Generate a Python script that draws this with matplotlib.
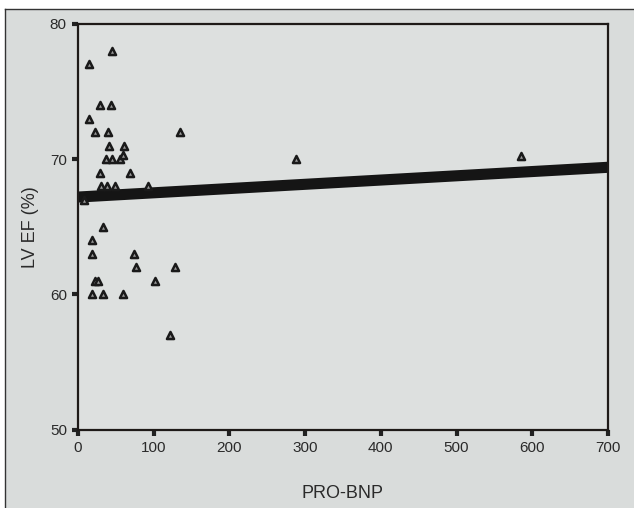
import numpy as np
import matplotlib.pyplot as plt
from matplotlib.patches import Rectangle

plt.rcParams['font.family'] = ['Liberation Sans', 'DejaVu Sans']

# PRO-BNP vs LVEF, triangle markers
pro_bnp = [45, 14, 29, 44, 15, 23, 39, 135, 41, 61, 37, 45, 55, 60,
           29, 69, 31, 38, 49, 92, 8, 33, 18, 19, 74, 77, 128,
           22, 26, 102, 19, 33, 60, 121, 288, 585]
lvef = [78, 77, 74, 74, 73, 72, 72, 72, 71, 71, 70, 70, 70, 70.3,
        69, 69, 68, 68, 68, 68, 67, 65, 64, 63, 63, 62, 62,
        61, 61, 61, 60, 60, 60, 57, 70, 70.2]

# linear fit line
fit_x = [0, 700]
fit_y = [67.2, 69.4]

bg = '#d9dcdb'
fig = plt.figure(figsize=(6.34, 5.08), dpi=100, facecolor=bg)
ax = fig.add_axes([0.123, 0.154, 0.836, 0.799], facecolor='#dde0df')

ax.plot(fit_x, fit_y, color='#151515', linewidth=8, solid_capstyle='butt', zorder=2)
ax.scatter(pro_bnp, lvef, marker='^', s=26, facecolor='#9a9a9a',
           edgecolor='#1a1a1a', linewidth=1.8, zorder=3)

ax.set_xlim(0, 700)
ax.set_ylim(50, 80)
ax.set_xticks(range(0, 701, 100))
ax.set_yticks([50, 60, 70, 80])
ax.tick_params(direction='out', length=4, width=3, color='#222222',
               labelsize=11, labelcolor='#2a2a2a', pad=4)
for s in ax.spines.values():
    s.set_linewidth(1.6)
    s.set_color('#1e1a18')

ax.set_xlabel('PRO-BNP', fontsize=13, color='#2a2a2a', labelpad=22)
ax.set_ylabel('LV EF (%)', fontsize=13, color='#2a2a2a', labelpad=8)

# outer frame
fig.patches.append(Rectangle((0, 0.982), 1, 0.018, transform=fig.transFigure,
                             facecolor='white', edgecolor='none'))
fig.patches.append(Rectangle((0, 0), 0.008, 1, transform=fig.transFigure,
                             facecolor='white', edgecolor='none'))
fig.lines.append(plt.Line2D([0.008, 1], [0.982, 0.982], transform=fig.transFigure,
                            color='#333333', linewidth=1))
fig.lines.append(plt.Line2D([0.008, 0.008], [0, 0.982], transform=fig.transFigure,
                            color='#333333', linewidth=1))

fig.savefig('out.png', dpi=100, facecolor=bg)
